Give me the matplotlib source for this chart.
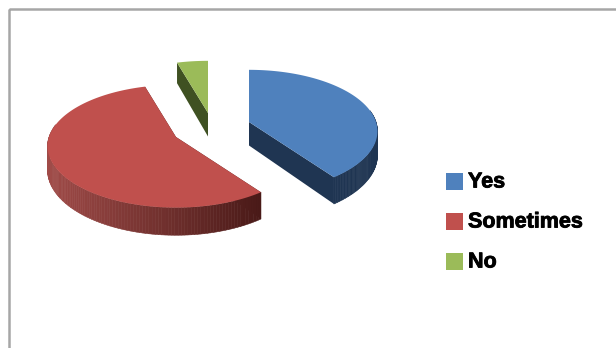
import numpy as np
import matplotlib
matplotlib.use("Agg")
import matplotlib.pyplot as plt
import matplotlib.patheffects as pe
from matplotlib.patches import Polygon, Rectangle
from matplotlib.collections import PolyCollection
from matplotlib.colors import to_rgb

categories = ["Yes", "Sometimes", "No"]
values = [40.0, 55.5, 4.5]
top_colors = ["#4f81bd", "#c0504d", "#9bbb59"]
side_colors = ["#1f3552", "#a04b48", "#3f5122"]
side_end_colors = ["#1f3552", "#4a1a18", "#3f5122"]
apex_x = [249, 176, 208]
apex_y = [122, 137, 113]

RX, RY, TILT, DEPTH = 127, 60, 0.15, 23.5

fig = plt.figure(figsize=(6.16, 3.48), dpi=100)
ax = fig.add_axes([0, 0, 1, 1])
ax.set_xlim(0, 616)
ax.set_ylim(348, 0)
ax.axis("off")

# Chart frame: only the top and left edges fall inside the canvas
ax.add_patch(Rectangle((8.5, 8.5), 800, 500, fill=False, ec="#a6a6a6", lw=1.8))


def project(theta, r=1.0):
    """Perspective projection of a polar point (clockwise from 12 o'clock)."""
    u, v = r * np.sin(theta), -r * np.cos(theta)
    w = 1 - TILT * v
    return RX * u / w, RY * v / w, DEPTH / w


starts = np.radians(np.r_[0, np.cumsum(values)[:-1]] * 3.6)
ends = np.radians(np.cumsum(values) * 3.6)

for i in [2, 0, 1]:
    cx, cy = apex_x[i], apex_y[i]
    th = np.linspace(starts[i], ends[i], 160)
    sx, sy, d = project(th)
    ex, ey = cx + sx, cy + sy

    # Flat cut faces down from the wedge edges
    for k in (0, -1):
        ax.add_patch(Polygon(
            [(cx, cy), (ex[k], ey[k]), (ex[k], ey[k] + d[k]), (cx, cy + DEPTH)],
            closed=True, fc=side_end_colors[i], ec="none", zorder=2 + i * 0.1))

    # Outer rim, one shaded quad per arc step
    c0, c1 = np.array(to_rgb(side_colors[i])), np.array(to_rgb(side_end_colors[i]))
    quads, cols = [], []
    lo, hi = ex.min(), ex.max()
    for a in range(len(th) - 1):
        if np.cos(th[a]) < 0.2:
            quads.append([(ex[a], ey[a]), (ex[a + 1], ey[a + 1]),
                          (ex[a + 1], ey[a + 1] + d[a + 1]), (ex[a], ey[a] + d[a])])
            f = (ex[a] - lo) / max(hi - lo, 1)
            cols.append(c0 + (c1 - c0) * f)
    if quads:
        ax.add_collection(PolyCollection(quads, facecolors=cols, edgecolors=cols,
                                         linewidths=0.4, zorder=2.5 + i * 0.1))

    # Top face of the wedge
    ax.add_patch(Polygon(np.c_[np.r_[cx, ex], np.r_[cy, ey]], closed=True,
                         fc=top_colors[i], ec="none", zorder=3 + i * 0.1))

# Legend
legend_y = [181, 221, 261]
for name, color, y in zip(categories, top_colors, legend_y):
    ax.add_patch(Rectangle((446, y - 8.5), 17, 17, fc=color, ec="none"))
    ax.text(468, y + 1, name, family="Liberation Sans", weight="bold", fontsize=15.5,
            va="center", ha="left", color="black",
            path_effects=[pe.withStroke(linewidth=0.6, foreground="black")])

fig.savefig("out.png", dpi=100, facecolor="white")
